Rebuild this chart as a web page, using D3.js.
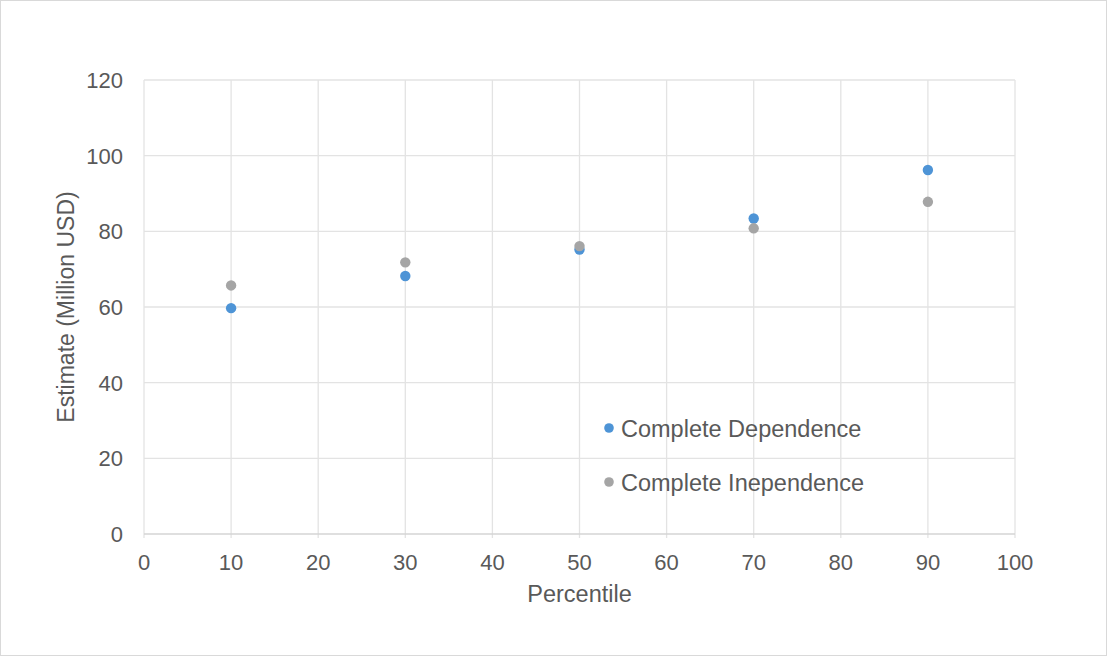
<!DOCTYPE html>
<html><head><meta charset="utf-8">
<script src="https://cdn.jsdelivr.net/npm/d3@7"></script>
<style>
html,body{margin:0;padding:0;background:#fff;}
svg{display:block;font-family:"Liberation Sans",Arial,sans-serif;}
</style></head>
<body>
<script>
const percentiles = [10, 30, 50, 70, 90];
const dependence = [59.7, 68.2, 75.2, 83.4, 96.2];
const independence = [65.7, 71.8, 76.1, 80.8, 87.8];
const xTicks = [0,10,20,30,40,50,60,70,80,90,100];
const yTicks = [0,20,40,60,80,100,120];
const seriesNames = ["Complete Dependence", "Complete Inependence"];
const colors = ["#4e94d6", "#a5a5a5"];

const W = 1107, H = 656;
const svg = d3.select("body").append("svg").attr("width", W).attr("height", H);
svg.append("rect").attr("x",0.5).attr("y",0.5).attr("width",W-1).attr("height",H-1)
  .attr("fill","#fff").attr("stroke","#d9d9d9");

const m = {left:144, right:1015, top:80, bottom:534};
const x = d3.scaleLinear().domain([0,100]).range([m.left, m.right]);
const y = d3.scaleLinear().domain([0,120]).range([m.bottom, m.top]);

// gridlines
svg.append("g").selectAll("line").data(xTicks).join("line")
  .attr("x1", d=>x(d)).attr("x2", d=>x(d)).attr("y1", m.top).attr("y2", m.bottom+4)
  .attr("stroke","#e3e3e3").attr("stroke-width",1.3);
svg.append("g").selectAll("line").data(yTicks).join("line")
  .attr("x1", m.left).attr("x2", m.right).attr("y1", d=>y(d)).attr("y2", d=>y(d))
  .attr("stroke", d=> d===0 ? "#d4d4d4" : "#e3e3e3").attr("stroke-width", d=> d===0?1.6:1.3);

// tick labels
svg.append("g").selectAll("text").data(yTicks).join("text")
  .attr("x", m.left-21).attr("y", d=>y(d)).attr("dy","0.36em")
  .attr("text-anchor","end").attr("font-size",22).attr("fill","#595959").text(d=>d);
svg.append("g").selectAll("text").data(xTicks).join("text")
  .attr("x", d=>x(d)).attr("y", 570)
  .attr("text-anchor","middle").attr("font-size",22).attr("fill","#595959").text(d=>d);

// axis titles
svg.append("text").attr("x", x(50)).attr("y", 602).attr("text-anchor","middle")
  .attr("font-size",23.5).attr("fill","#595959").text("Percentile");
svg.append("text").attr("transform", `translate(74,${(m.top+m.bottom)/2}) rotate(-90)`)
  .attr("text-anchor","middle").attr("font-size",23).attr("fill","#595959")
  .text("Estimate (Million USD)");

// points
const series = [dependence, independence];
series.forEach((vals, i) => {
  svg.append("g").selectAll("circle").data(percentiles.map((p,j)=>[p, vals[j]])).join("circle")
    .attr("cx", d=>x(d[0])).attr("cy", d=>y(d[1])).attr("r", 5.2).attr("fill", colors[i]);
});

// legend
const leg = svg.append("g");
seriesNames.forEach((n,i)=>{
  const ly = 428 + i*54;
  leg.append("circle").attr("cx",609).attr("cy",ly).attr("r",4.8).attr("fill",colors[i]);
  leg.append("text").attr("x",621).attr("y",ly+8.5)
    .attr("font-size",23.5).attr("fill","#595959").text(n);
});
</script>
</body></html>
